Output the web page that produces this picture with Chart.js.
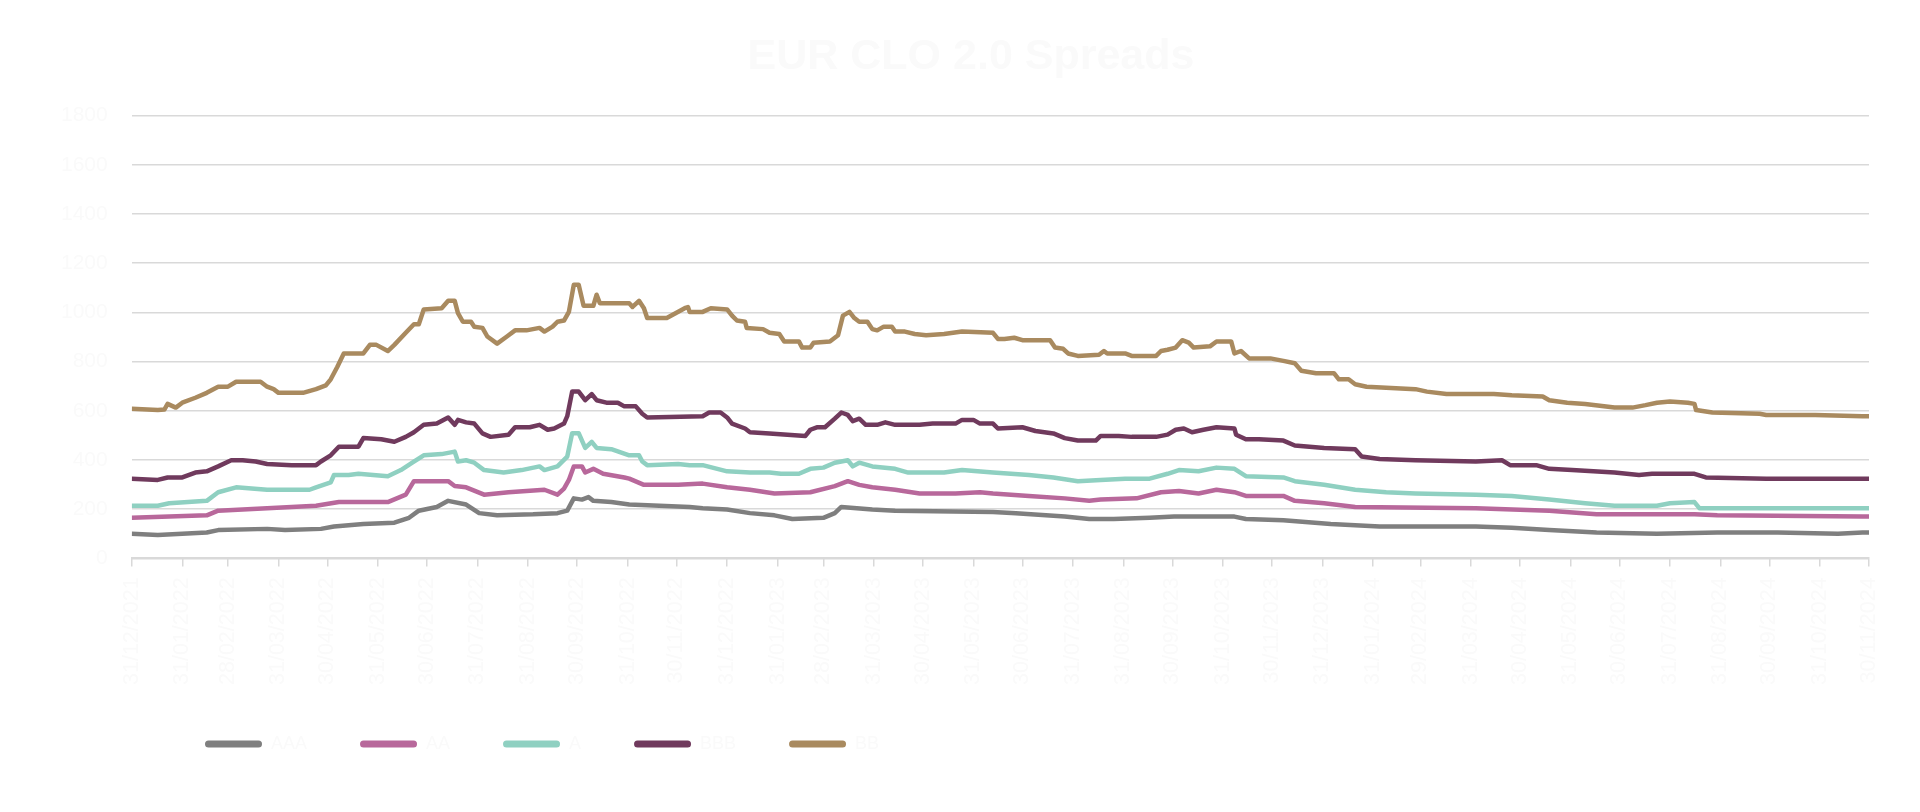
<!DOCTYPE html>
<html lang="en">
<head>
    <meta charset="UTF-8">
    <title>EUR CLO 2.0 Spreads</title>
    <script src="https://cdn.jsdelivr.net/npm/chart.js@4.4.1/dist/chart.umd.min.js"></script>
    <style>
        * { margin: 0; padding: 0; box-sizing: border-box; }
        body { background: #ffffff; width: 1920px; height: 812px; overflow: hidden; }
        .chart-container { position: relative; width: 1920px; height: 812px; }
    </style>
</head>
<body>
    <div class="chart-container">
        <canvas id="spreadChart"></canvas>
    </div>

    <script>
        // x values are days since 31/12/2021
        const tickLabels = [
            '31/12/2021', '31/01/2022', '28/02/2022', '31/03/2022', '30/04/2022', '31/05/2022',
            '30/06/2022', '31/07/2022', '31/08/2022', '30/09/2022', '31/10/2022', '30/11/2022',
            '31/12/2022', '31/01/2023', '28/02/2023', '31/03/2023', '30/04/2023', '31/05/2023',
            '30/06/2023', '31/07/2023', '31/08/2023', '30/09/2023', '31/10/2023', '30/11/2023',
            '31/12/2023', '31/01/2024', '29/02/2024', '31/03/2024', '30/04/2024', '31/05/2024',
            '30/06/2024', '31/07/2024', '31/08/2024', '30/09/2024', '31/10/2024', '30/11/2024'
        ];

        const seriesNames = ['AAA', 'AA', 'A', 'BBB', 'BB'];
        const seriesColors = ['#7f7f7f', '#b8689b', '#8fd0c1', '#703a5d', '#a98a5f'];

        const aaaDays = [0, 16, 46, 53, 83, 94, 116, 124, 142, 161, 170, 176, 187, 194, 205, 213, 224, 246, 261, 267, 271, 276, 280, 283, 294, 305, 342, 350, 365, 379, 394, 405, 424, 431, 435, 454, 468, 528, 542, 572, 587, 602, 624, 639, 676, 683, 706, 735, 765, 824, 846, 869, 898, 935, 972, 1009, 1046, 1061, 1065];
        const aaaValues = [100, 95, 105, 115, 120, 115, 120, 130, 140, 145, 165, 194, 209, 234, 219, 184, 175, 179, 184, 194, 244, 239, 249, 234, 229, 219, 209, 204, 199, 184, 175, 160, 165, 184, 209, 199, 194, 189, 184, 170, 160, 160, 165, 170, 170, 160, 155, 140, 130, 130, 125, 115, 105, 100, 105, 105, 100, 105, 105];

        const aaDays = [0, 46, 53, 83, 113, 127, 157, 168, 173, 194, 198, 205, 216, 231, 253, 261, 265, 268, 271, 276, 278, 283, 289, 302, 305, 314, 335, 350, 365, 379, 394, 416, 431, 439, 446, 454, 468, 483, 505, 520, 528, 550, 572, 587, 594, 616, 631, 642, 654, 665, 676, 683, 706, 713, 731, 750, 824, 869, 898, 958, 972, 1061, 1065];
        const aaValues = [165, 175, 194, 204, 214, 229, 229, 259, 314, 314, 294, 289, 259, 269, 279, 259, 284, 319, 374, 374, 349, 364, 344, 329, 324, 299, 299, 304, 289, 279, 264, 269, 294, 314, 299, 289, 279, 264, 264, 269, 264, 254, 244, 234, 239, 244, 269, 274, 264, 279, 269, 254, 254, 234, 224, 209, 204, 194, 179, 179, 175, 170, 170];

        const aDays = [0, 16, 23, 46, 53, 64, 83, 109, 113, 122, 124, 133, 139, 157, 165, 172, 179, 190, 198, 200, 205, 210, 216, 228, 239, 250, 253, 261, 267, 270, 274, 278, 282, 285, 294, 305, 311, 313, 316, 335, 342, 350, 365, 379, 391, 398, 409, 416, 424, 431, 439, 442, 446, 454, 468, 476, 498, 509, 528, 550, 565, 580, 594, 609, 624, 635, 642, 654, 665, 676, 683, 706, 713, 731, 750, 769, 787, 824, 846, 869, 891, 909, 935, 943, 958, 961, 1002, 1065];
        const aValues = [214, 214, 224, 234, 269, 289, 279, 279, 289, 309, 339, 339, 344, 334, 359, 389, 419, 424, 434, 394, 399, 389, 359, 349, 359, 374, 359, 374, 414, 509, 509, 449, 474, 449, 444, 419, 419, 394, 379, 384, 379, 379, 354, 349, 349, 344, 344, 364, 369, 389, 399, 374, 389, 374, 364, 349, 349, 359, 349, 339, 329, 314, 319, 324, 324, 344, 359, 354, 369, 364, 334, 329, 314, 299, 279, 269, 264, 259, 254, 239, 224, 214, 214, 224, 229, 204, 204, 204];

        const bbbDays = [0, 16, 22, 31, 39, 46, 53, 61, 68, 76, 83, 98, 113, 116, 122, 127, 139, 142, 153, 161, 168, 173, 179, 187, 194, 198, 200, 205, 210, 215, 220, 231, 235, 244, 250, 255, 259, 265, 267, 270, 274, 278, 282, 285, 291, 298, 302, 309, 313, 316, 350, 354, 361, 365, 368, 376, 379, 391, 402, 413, 416, 420, 425, 431, 435, 439, 442, 446, 450, 457, 462, 468, 483, 491, 505, 509, 516, 520, 528, 531, 546, 554, 565, 572, 580, 591, 594, 605, 613, 628, 635, 640, 645, 650, 657, 665, 676, 677, 683, 691, 706, 713, 731, 750, 754, 765, 787, 824, 840, 845, 861, 869, 883, 909, 924, 932, 958, 965, 1002, 1065];
        const bbbValues = [324, 319, 329, 329, 349, 354, 374, 399, 399, 394, 384, 379, 379, 394, 419, 454, 454, 489, 484, 474, 494, 513, 543, 548, 573, 543, 563, 553, 548, 508, 494, 503, 533, 533, 543, 523, 528, 548, 578, 678, 678, 643, 668, 643, 633, 633, 618, 618, 588, 573, 578, 593, 593, 573, 548, 528, 513, 508, 503, 498, 523, 533, 533, 568, 593, 583, 558, 568, 543, 543, 553, 543, 543, 548, 548, 563, 563, 548, 548, 528, 533, 518, 508, 489, 479, 479, 498, 498, 494, 494, 503, 523, 528, 513, 523, 533, 528, 503, 484, 484, 479, 459, 449, 444, 414, 404, 399, 394, 399, 379, 379, 364, 359, 349, 339, 344, 344, 329, 324, 324];

        const bbDays = [0, 16, 20, 22, 27, 31, 39, 46, 53, 59, 64, 79, 83, 87, 90, 105, 113, 119, 122, 126, 130, 142, 146, 150, 157, 161, 168, 173, 176, 179, 190, 194, 198, 200, 203, 208, 210, 215, 218, 224, 230, 235, 242, 246, 250, 253, 258, 261, 265, 268, 271, 274, 277, 283, 285, 287, 305, 307, 311, 314, 316, 328, 339, 341, 342, 350, 355, 365, 368, 371, 376, 377, 387, 391, 397, 400, 409, 411, 416, 418, 428, 433, 436, 440, 443, 446, 451, 454, 457, 461, 466, 468, 474, 480, 487, 498, 509, 528, 531, 535, 541, 546, 563, 566, 571, 574, 580, 593, 596, 598, 609, 613, 628, 631, 635, 640, 644, 648, 651, 661, 665, 674, 676, 680, 685, 698, 706, 713, 717, 726, 737, 740, 746, 750, 757, 772, 787, 794, 806, 835, 846, 865, 869, 880, 891, 909, 920, 928, 935, 943, 954, 958, 959, 969, 998, 1002, 1032, 1061, 1065];
        const bbValues = [608, 603, 605, 628, 613, 633, 653, 673, 698, 698, 718, 718, 698, 688, 673, 673, 688, 703, 728, 778, 833, 833, 868, 868, 843, 868, 917, 952, 952, 1012, 1017, 1047, 1047, 997, 962, 962, 942, 937, 902, 873, 902, 927, 927, 932, 937, 922, 942, 962, 967, 1002, 1112, 1112, 1027, 1027, 1072, 1037, 1037, 1022, 1047, 1017, 977, 977, 1017, 1022, 1002, 1002, 1017, 1012, 987, 967, 962, 937, 932, 917, 912, 882, 882, 857, 857, 877, 882, 907, 987, 1002, 977, 962, 962, 932, 927, 942, 942, 922, 922, 912, 907, 912, 922, 917, 892, 892, 897, 887, 887, 857, 852, 833, 823, 828, 843, 833, 833, 823, 823, 843, 848, 857, 887, 877, 857, 862, 882, 882, 833, 843, 813, 813, 803, 793, 763, 753, 753, 728, 728, 708, 698, 693, 688, 678, 668, 668, 663, 658, 643, 633, 628, 613, 613, 623, 633, 638, 633, 628, 603, 593, 588, 583, 583, 578, 578];

        const allDays = [aaaDays, aaDays, aDays, bbbDays, bbDays];
        const allValues = [aaaValues, aaValues, aValues, bbbValues, bbValues];

        const textColor = '#fafafa';
        const gridColor = '#d9d9d9';
        const fontFamily = "'Liberation Sans', Arial, sans-serif";

        // turn 'dd/mm/yyyy' into days since 31/12/2021
        function dayOf(label) {
            const [d, m, y] = label.split('/').map(Number);
            return (Date.UTC(y, m - 1, d) - Date.UTC(2021, 11, 31)) / 86400000;
        }
        const tickDays = tickLabels.map(dayOf);

        const datasets = seriesNames.map((name, i) => ({
            label: name,
            data: allDays[i].map((d, j) => ({ x: d, y: allValues[i][j] })),
            borderColor: seriesColors[i],
            backgroundColor: seriesColors[i],
            borderWidth: 4.5,
            borderJoinStyle: 'round',
            pointRadius: 0,
            tension: 0,
            fill: false
        }));

        // nudge title and legend to where the original has them
        const boxShift = {
            id: 'boxShift',
            afterLayout(chart) {
                if (chart.legend) {
                    chart.legend.left = 152;
                    chart.legend.top -= 14;
                }
                if (chart.titleBlock) chart.titleBlock.left += 36;
            }
        };

        const ctx = document.getElementById('spreadChart').getContext('2d');
        new Chart(ctx, {
            type: 'line',
            data: { datasets: datasets },
            plugins: [boxShift],
            options: {
                responsive: true,
                maintainAspectRatio: false,
                animation: false,
                layout: { padding: { left: 37, right: 51, top: 0, bottom: 35 } },
                scales: {
                    x: {
                        type: 'linear',
                        min: 0,
                        max: 1065,
                        afterBuildTicks: (axis) => {
                            axis.ticks = tickDays.map(v => ({ value: v }));
                        },
                        grid: { drawOnChartArea: false, drawTicks: true, tickLength: 8, color: gridColor, lineWidth: 1.5 },
                        border: { display: true, color: gridColor, width: 2 },
                        ticks: {
                            autoSkip: false,
                            maxRotation: 90,
                            minRotation: 90,
                            padding: 11,
                            color: textColor,
                            font: { family: fontFamily, size: 21.5 },
                            callback: (value, index) => tickLabels[index]
                        }
                    },
                    y: {
                        min: 0,
                        max: 1800,
                        ticks: {
                            stepSize: 200,
                            padding: 24,
                            color: textColor,
                            font: { family: fontFamily, size: 21 },
                            callback: (value) => String(value)
                        },
                        grid: { color: gridColor, lineWidth: 1.5, drawTicks: false },
                        border: { display: false }
                    }
                },
                plugins: {
                    title: {
                        display: true,
                        text: 'EUR CLO 2.0 Spreads',
                        color: textColor,
                        font: { family: fontFamily, size: 43, weight: 'bold' },
                        padding: { top: 31, bottom: 33 }
                    },
                    legend: {
                        display: true,
                        position: 'bottom',
                        align: 'start',
                        labels: {
                            boxWidth: 57,
                            boxHeight: 7,
                            useBorderRadius: true,
                            borderRadius: 3.5,
                            padding: 53,
                            color: textColor,
                            font: { family: fontFamily, size: 18 },
                            generateLabels: (chart) => {
                                const items = Chart.defaults.plugins.legend.labels.generateLabels(chart);
                                items.forEach(item => { item.lineWidth = 0; });
                                return items;
                            }
                        }
                    },
                    tooltip: { enabled: false }
                }
            }
        });
    </script>
</body>
</html>
